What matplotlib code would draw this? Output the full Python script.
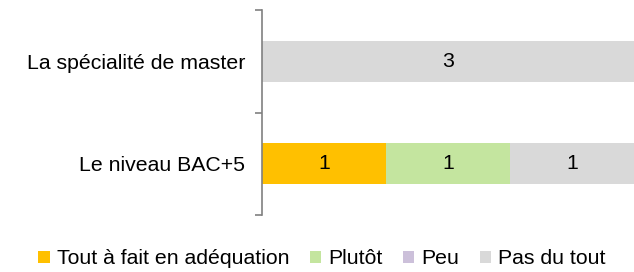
import matplotlib
matplotlib.use("Agg")
import matplotlib.pyplot as plt
import numpy as np

plt.rcParams['font.family'] = ['Liberation Sans', 'DejaVu Sans']

categories = ["Le niveau BAC+5", "La spécialité de master"]
series_names = ["Tout à fait en adéquation", "Plutôt", "Peu", "Pas du tout"]
tout_a_fait = [1, 0]
plutot = [1, 0]
peu = [0, 0]
pas_du_tout = [1, 3]
colors = ["#FFC000", "#C4E59F", "#CCC0DA", "#D9D9D9"]

FS = 15.3

fig = plt.figure(figsize=(6.34, 2.72), dpi=100)
ax = fig.add_axes([262/634, 57/272, 372/634, 205/272])

series = [tout_a_fait, plutot, peu, pas_du_tout]
y = np.arange(len(categories))
left = np.zeros(len(categories))
for name, vals, c in zip(series_names, series, colors):
    vals = np.array(vals, dtype=float)
    ax.barh(y, vals, left=left, height=0.4, color=c, label=name)
    for yi, (l, v) in enumerate(zip(left, vals)):
        if v > 0:
            ax.text(l + v / 2, yi, f"{int(v)}", ha="center", va="center", fontsize=FS, color="black")
    left += vals

ax.set_xlim(0, 3)
ax.set_ylim(-0.5, 1.5)
ax.set_yticks([-0.5, 0.5, 1.5], minor=False)
ax.set_yticklabels([])
ax.set_yticks(y, minor=True)
ax.set_yticklabels(categories, minor=True, fontsize=FS)
ax.tick_params(axis='y', which='minor', length=0, pad=12)
ax.tick_params(axis='y', which='major', length=5, color="#808080", width=1.2)
for s in ["top", "right", "bottom"]:
    ax.spines[s].set_visible(False)
ax.spines["left"].set_color("#808080")
ax.spines["left"].set_linewidth(1.2)
ax.set_xticks([])

handles, labels = ax.get_legend_handles_labels()
fig.legend(handles, labels, loc="center", bbox_to_anchor=(0.508, 13/272), ncol=4, frameon=False,
           fontsize=FS, handlelength=0.53, handleheight=0.53, handletextpad=0.35, columnspacing=0.95,
           borderpad=0, borderaxespad=0)

fig.savefig("out.png", dpi=100)
